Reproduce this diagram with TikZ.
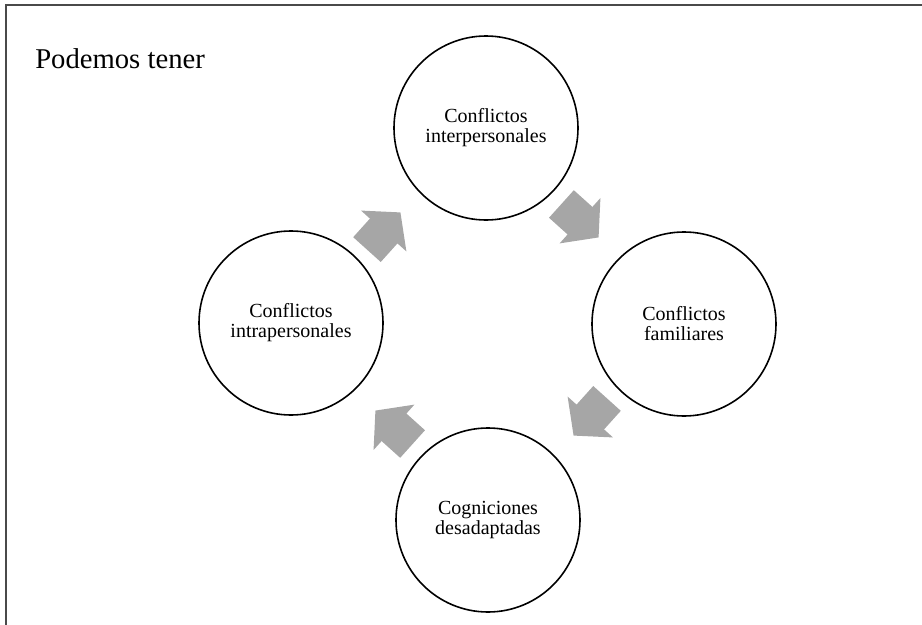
\documentclass[tikz,border=0pt]{standalone}
\usepackage{fontspec}
\setmainfont{Liberation Serif}
\definecolor{arrowgray}{HTML}{A6A6A6}
\definecolor{framegray}{HTML}{4A4A4A}
\newcommand\cyclearrow[3]{%
  \begin{scope}[shift={(#1,#2)},rotate=#3]
    \fill[arrowgray] (-18.75pt,-13.9pt) -- (0pt,-13.9pt) -- (0pt,-22.9pt) -- (18.75pt,0pt)
      -- (0pt,22.9pt) -- (0pt,13.9pt) -- (-18.75pt,13.9pt) -- cycle;
  \end{scope}}
\begin{document}
\begin{tikzpicture}[x=0.75pt,y=-0.75pt,
  cyc/.style={circle,draw=black,line width=1.2pt,minimum size=138pt,inner sep=0pt,
    align=center,font=\fontsize{15}{15}\selectfont}]
\useasboundingbox (0,0) rectangle (922,625);
\draw[framegray,line width=1.2pt] (922,5) -- (6,5) -- (6,625);
\node[anchor=base west,font=\fontsize{21.5}{24}\selectfont,inner sep=0pt] (title) at (35,68) {Podemos tener};
\node[cyc] (top) at (486,128) {Conflictos\\interpersonales};
\node[cyc] (right) at (684,324) {Conflictos\\familiares};
\node[cyc] (bottom) at (488,520) {Cogniciones\\desadaptadas};
\node[cyc] (left) at (291,323) {Conflictos\\intrapersonales};
\cyclearrow{383.7}{231}{48}
\cyclearrow{580}{220.7}{-42}
\cyclearrow{590.3}{417}{-132}
\cyclearrow{394}{427.3}{138}
\end{tikzpicture}
\end{document}
